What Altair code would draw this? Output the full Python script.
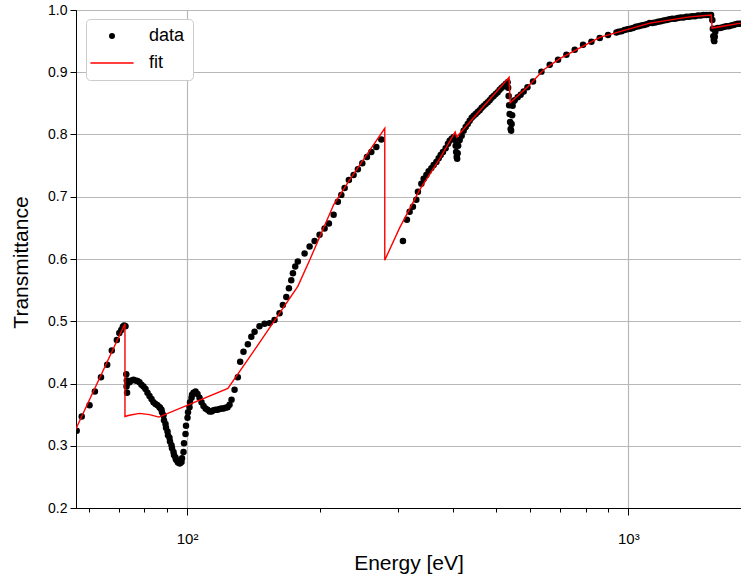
import altair as alt
import pandas as pd

# ---------------- data ----------------
data_energy = [
    56.2, 57.7, 60.1, 61.8, 63.8, 65.9, 67.5, 69.3, 70.2, 70.9, 71.5, 72.0, 72.5,
    72.8, 72.9, 73.0, 73.1,
    73.26, 74.03, 74.81, 75.59, 76.38, 77.19, 78.00, 78.81, 79.64, 80.48, 81.32, 82.18,
    83.04, 83.91, 84.79, 85.68, 86.58, 86.81, 87.49, 87.72, 88.41, 88.64, 89.34, 89.57,
    90.27, 90.51, 91.22, 91.46, 92.18, 92.42, 93.15, 93.39, 94.12, 94.37, 95.11, 95.36,
    96.11, 96.36, 97.12, 97.37, 98.14, 98.40, 99.17, 99.43, 100.21, 100.47, 101.26, 101.52,
    102.33, 102.60, 103.40, 104.49, 105.58, 106.69, 107.81, 108.94, 110.09, 111.24, 112.41,
    113.59, 114.78, 115.99, 117.21, 118.44, 119.68, 120.94, 122.21, 123.49, 124.79, 126.10,
    128.1, 130.3, 131.9, 134.2, 137.3, 139.8, 142.2, 145.9, 149.8, 153.8, 157.8, 162.0,
    164.8, 167.8, 170.1, 172.2, 173.7, 175.8, 178.2, 184.6, 189.5, 194.5, 199.6, 204.9,
    209.6, 214.8, 219.6, 223.6, 227.5, 232.6, 238.4, 243.8, 249.5, 255.6, 261.5, 268.4, 275.5,
    308.4, 314.9, 319.4, 324.9, 330.7, 333.5, 339.5, 343.6, 348.5, 352.7, 357.7, 362.0,
    367.2, 371.6, 375.5, 380.0, 385.4, 390.1, 393.6, 397.7, 401.9,
    405.0, 406.1, 407.1, 408.2, 409.3, 410.4, 411.4, 412.5,
    414.7, 419.0, 423.4, 427.9, 432.4, 436.9, 441.5, 446.1, 450.8, 455.5, 460.3, 465.1,
    470.0, 474.9, 479.9, 484.9, 490.0, 495.1, 500.3, 505.6, 510.9, 516.2, 521.6, 527.1, 532.6,
    534.0, 535.4, 536.8, 538.2, 539.6, 541.0, 542.4, 543.8, 545.3, 546.7, 549.6,
    552.6, 561.3, 570.1, 579.1, 590.6,
    608.0, 635.3, 663.4, 692.8, 723.8, 755.9, 789.4, 824.7, 861.3, 899.4, 939.7,
    950, 965, 980, 995, 1010, 1025, 1040, 1055, 1070, 1085, 1100, 1117, 1134, 1151, 1168,
    1185, 1203, 1221, 1239, 1257, 1276, 1295, 1314, 1334, 1354, 1374, 1395, 1416, 1437,
    1459, 1481, 1503, 1525, 1540,
    1549.8, 1553.9, 1557.9, 1562.0, 1566.1, 1570.2, 1574.3, 1578.4,
    1595, 1612, 1630, 1650, 1670, 1690, 1710, 1730, 1750, 1770, 1790,
]
data_trans = [
    0.324, 0.347, 0.365, 0.387, 0.410, 0.430, 0.453, 0.470, 0.481, 0.486, 0.491, 0.493, 0.492,
    0.415, 0.395, 0.405, 0.385,
    0.401, 0.402, 0.405, 0.406, 0.405, 0.404, 0.402, 0.398, 0.395, 0.391, 0.385, 0.380,
    0.375, 0.370, 0.367, 0.365, 0.362, 0.361, 0.358, 0.354, 0.349, 0.341, 0.335, 0.329,
    0.323, 0.317, 0.313, 0.307, 0.301, 0.296, 0.290, 0.285, 0.281, 0.278, 0.275, 0.273,
    0.272, 0.272, 0.274, 0.280, 0.290, 0.304, 0.319, 0.332, 0.345, 0.354, 0.362, 0.370,
    0.377, 0.382, 0.385, 0.387, 0.383, 0.377, 0.370, 0.364, 0.360, 0.358, 0.355,
    0.355, 0.357, 0.358, 0.358, 0.359, 0.360, 0.360, 0.361, 0.362, 0.366, 0.374,
    0.390, 0.410, 0.435, 0.451, 0.463, 0.475, 0.483, 0.492, 0.496, 0.497, 0.502, 0.513,
    0.526, 0.539, 0.553, 0.566, 0.577, 0.588, 0.596, 0.609, 0.620, 0.629, 0.639, 0.649,
    0.657, 0.671, 0.692, 0.703, 0.714, 0.727, 0.735, 0.744, 0.754, 0.764, 0.772, 0.780, 0.792,
    0.629, 0.663, 0.676, 0.684, 0.695, 0.708, 0.721, 0.729, 0.735, 0.741, 0.746, 0.751,
    0.756, 0.762, 0.767, 0.772, 0.778, 0.785, 0.790, 0.793, 0.796,
    0.791, 0.782, 0.772, 0.764, 0.761, 0.770, 0.782, 0.790,
    0.791, 0.798, 0.806, 0.812, 0.817, 0.822, 0.827, 0.830, 0.833, 0.836, 0.839, 0.843,
    0.846, 0.849, 0.852, 0.855, 0.859, 0.862, 0.865, 0.868, 0.872, 0.875, 0.878, 0.881, 0.884,
    0.875, 0.862, 0.847, 0.833, 0.820, 0.809, 0.806, 0.817, 0.831, 0.846, 0.854,
    0.855, 0.860, 0.864, 0.869, 0.876,
    0.885, 0.901, 0.912, 0.920, 0.928, 0.936, 0.944, 0.949, 0.955, 0.960, 0.964,
    0.965, 0.966, 0.968, 0.969, 0.970, 0.971, 0.973, 0.974, 0.975, 0.976, 0.977, 0.979,
    0.979, 0.980, 0.981, 0.982, 0.983, 0.984, 0.985, 0.986, 0.986, 0.987, 0.988, 0.988,
    0.989, 0.989, 0.990, 0.990, 0.991, 0.991, 0.992, 0.992, 0.992, 0.992,
    0.984, 0.970, 0.958, 0.952, 0.950, 0.957, 0.965, 0.970,
    0.971, 0.971, 0.972, 0.973, 0.974, 0.974, 0.975, 0.976, 0.977, 0.978, 0.978,
]
fit_energy = [
    55.8, 72.3, 72.3, 74.0, 78.0, 82.2, 86.3, 123.7, 142.2, 178.2, 189.5, 214.8, 233.5,
    280.5, 280.5, 303.1, 336.5, 373.5, 405.0, 408.2, 536.8, 539.6, 592.3, 642.9, 698.9,
    861.3, 1118.2, 1378.0, 1541.7, 1548.2, 1798.5,
]
fit_trans = [
    0.325, 0.496, 0.347, 0.349, 0.352, 0.350, 0.346, 0.392, 0.454, 0.556, 0.598, 0.687, 0.727,
    0.810, 0.598, 0.650, 0.711, 0.761, 0.804, 0.796, 0.892, 0.851, 0.877, 0.904, 0.922,
    0.956, 0.979, 0.989, 0.992, 0.971, 0.979,
]
x_tick_values = [60, 70, 80, 90, 100, 200, 300, 400, 500, 600, 700, 800, 900, 1000]
y_tick_values = [0.2, 0.3, 0.4, 0.5, 0.6, 0.7, 0.8, 0.9, 1.0]
series_names = ["data", "fit"]
series_colors = ["black", "red"]
series_shapes = ["circle", "M-7.2,-0.22H7.2V0.22H-7.2Z"]

df_data = pd.DataFrame({"Energy": data_energy, "Transmittance": data_trans})
df_data["series"] = "data"
df_fit = pd.DataFrame({"Energy": fit_energy, "Transmittance": fit_trans})
df_fit["series"] = "fit"
df_fit["idx"] = list(range(len(fit_energy)))

FONT = "Liberation Sans"
major = "datum.value == 100 || datum.value == 1000"

x_scale = alt.Scale(type="log", domain=[56, 1800], nice=False)
y_scale = alt.Scale(domain=[0.2, 1.0], nice=False, zero=False)

x_axis = alt.Axis(
    values=x_tick_values,
    labelExpr="datum.value == 100 ? '10²' : (datum.value == 1000 ? '10³' : '')",
    tickSize={"condition": {"test": major, "value": 7}, "value": 4},
    gridOpacity={"condition": {"test": major, "value": 1}, "value": 0},
    labelOverlap=False, labelFlush=False,
    labelFontSize=15, labelPadding=16,
    title="Energy [eV]", titleFontSize=21, titleY=61, titleBaseline="alphabetic",
)
y_axis = alt.Axis(
    values=y_tick_values, format=".1f", tickSize=6, labelPadding=3,
    labelFontSize=14, title="Transmittance", titleFontSize=21,
    titleX=-55, titleY=252, titleBaseline="middle",
)

color_scale = alt.Scale(domain=series_names, range=series_colors)
legend = alt.Legend(
    title=None, orient="none", legendX=10, legendY=9, padding=8,
    fillColor="white", strokeColor="#cccccc", cornerRadius=4,
    labelFontSize=18, labelFont=FONT, labelColor="black",
    symbolSize=36, symbolOffset=9, labelOffset=28, rowPadding=9,
    symbolStrokeWidth=0,
)

points = alt.Chart(df_data).mark_point(filled=True, size=42, opacity=1, clip=True).encode(
    x=alt.X("Energy:Q", scale=x_scale, axis=x_axis),
    y=alt.Y("Transmittance:Q", scale=y_scale, axis=y_axis),
    color=alt.Color("series:N", scale=color_scale, legend=legend),
    shape=alt.Shape("series:N", scale=alt.Scale(domain=series_names, range=series_shapes), legend=legend),
)
fit_line = alt.Chart(df_fit).mark_line(strokeWidth=1.4, clip=True).encode(
    x=alt.X("Energy:Q", scale=x_scale),
    y=alt.Y("Transmittance:Q", scale=y_scale),
    color=alt.Color("series:N", scale=color_scale, legend=None),
    order=alt.Order("idx:Q"),
)

chart = alt.layer(points, fit_line).properties(
    width=665, height=498,
    autosize=alt.AutoSizeParams(type="none"),
    padding={"left": 76, "top": 10, "right": 0, "bottom": 70},
).configure_view(stroke="black", strokeWidth=1).configure_axis(
    domainColor="black", tickColor="black", gridColor="#b8b8b8", gridWidth=1.2,
    labelColor="black", titleColor="black", labelFont=FONT, titleFont=FONT,
    titleFontWeight="normal",
)

chart.save("out.html", embed_options={"renderer": "svg", "actions": False})
